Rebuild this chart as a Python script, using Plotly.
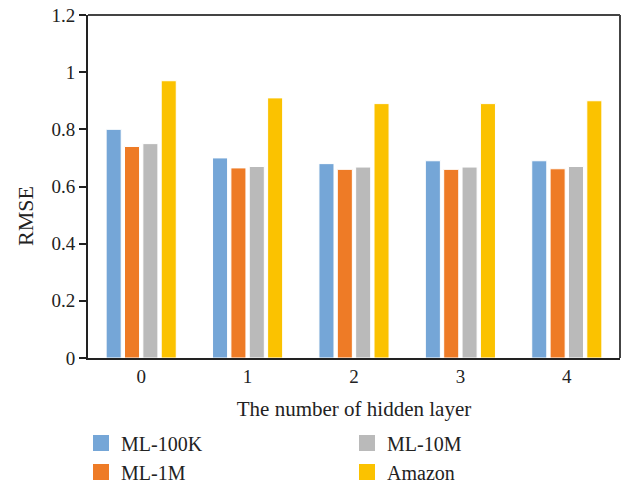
import plotly.graph_objects as go

categories = ["0", "1", "2", "3", "4"]
ml100k = [0.80, 0.70, 0.68, 0.69, 0.69]
ml1m = [0.74, 0.665, 0.66, 0.66, 0.662]
ml10m = [0.75, 0.67, 0.668, 0.668, 0.67]
amazon = [0.97, 0.91, 0.89, 0.89, 0.90]
series_names = ["ML-100K", "ML-1M", "ML-10M", "Amazon"]
colors = ["#75A6D7", "#EE7B26", "#BABABA", "#FBC200"]
legend_groups = ["legend", "legend2", "legend", "legend2"]

FONT = "Liberation Serif"
W, H = 629, 487
fig = go.Figure()
for name, vals, col in zip(series_names, [ml100k, ml1m, ml10m, amazon], colors):
    fig.add_trace(go.Bar(x=categories, y=vals, name=name, marker_color=col,
                         marker_line_color="white", marker_line_width=1,
                         showlegend=False))
for name, col, lg in zip(series_names, colors, legend_groups):
    fig.add_trace(go.Scatter(x=[None], y=[None], mode="markers", name=name,
                             marker=dict(symbol="square", size=16, color=col),
                             legend=lg, showlegend=True))

leg_common = dict(orientation="h", xref="container", yref="container",
                  xanchor="left", yanchor="middle",
                  entrywidth=221, entrywidthmode="pixels",
                  font=dict(family=FONT, size=20, color="#222"),
                  bgcolor="rgba(0,0,0,0)")
fig.update_layout(
    width=W, height=H,
    margin=dict(l=88, r=9, t=15, b=129, autoexpand=False),
    plot_bgcolor="white", paper_bgcolor="white",
    barmode="group", bargap=0.31, bargroupgap=0.18,
    font=dict(family=FONT, size=19, color="#222"),
    legend=dict(leg_common, x=81 / W, y=1 - 443 / H),
    legend2=dict(leg_common, x=81 / W, y=1 - 472 / H),
    showlegend=True,
)
fig.update_xaxes(type="category", showline=True, linecolor="#222", linewidth=2,
                 ticks="", tickfont=dict(size=19),
                 title=dict(text="The number of hidden layer", font=dict(size=21), standoff=16))
fig.update_yaxes(range=[0, 1.2], dtick=0.2, showline=True, linecolor="#222", linewidth=2,
                 ticks="outside", ticklen=7, tickwidth=1.5, tickcolor="#222",
                 ticklabeloverflow="allow",
                 showgrid=False, zeroline=False, tickfont=dict(size=19))
fig.add_shape(type="line", xref="paper", yref="paper", x0=0, x1=1, y0=1, y1=1,
              line=dict(color="#444", width=2))
fig.add_shape(type="line", xref="paper", yref="paper", x0=1, x1=1, y0=0, y1=1,
              line=dict(color="#444", width=2))
fig.add_annotation(text="RMSE", textangle=-90, xref="paper", yref="paper",
                   x=(25 - 88) / 532, y=(358 - 216) / 343, showarrow=False,
                   xanchor="center", yanchor="middle",
                   font=dict(size=22, family=FONT, color="#222"))
fig.write_html("out.html", config={"displayModeBar": False},
               post_script="document.body.style.margin='0';")
